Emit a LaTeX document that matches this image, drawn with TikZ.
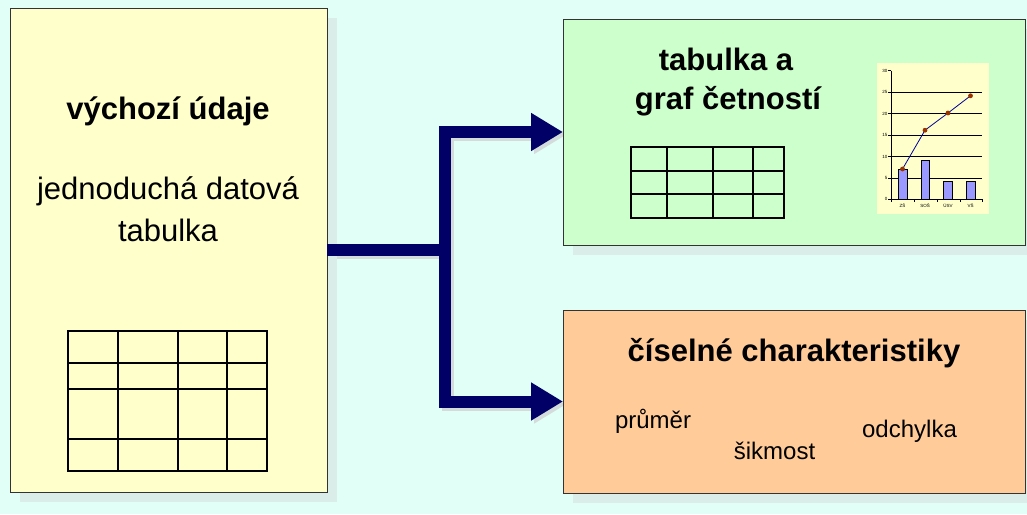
\documentclass[tikz,border=0pt]{standalone}
\usepackage{fontspec}
\setmainfont{Liberation Sans}
\usetikzlibrary{arrows.meta,shadows}

\definecolor{bgc}{HTML}{E2FFF7}
\definecolor{shadowc}{HTML}{DAEDE8}
\definecolor{arrowshadow}{HTML}{D3DCDA}
\definecolor{srcfill}{HTML}{FFFFCC}
\definecolor{freqfill}{HTML}{CCFFCC}
\definecolor{statfill}{HTML}{FFCC99}
\definecolor{navy}{HTML}{000066}
\definecolor{chartbg}{HTML}{FFFFCC}
\definecolor{barfill}{HTML}{9999FF}
\definecolor{markc}{HTML}{993300}
\definecolor{linec}{HTML}{000099}
\definecolor{edgec}{HTML}{333333}

\pgfdeclarelayer{bottom}
\pgfdeclarelayer{back}
\pgfsetlayers{bottom,back,main}

\begin{document}
\begin{tikzpicture}[x=1pt,y=-1pt,
  panel/.style={draw=edgec, line width=1pt, inner sep=0pt, outer sep=0pt,
    general shadow={fill=shadowc, shadow xshift=10pt, shadow yshift=-10pt}},
  conn/.style={draw=navy, line width=12pt},
  connshadow/.style={draw=arrowshadow, line width=12pt},
  headtip/.style={-{Triangle[length=32pt,width=36pt]}},
  bigbold/.style={font=\bfseries\fontsize{31}{38}\selectfont, anchor=base, inner sep=0pt},
  bigtext/.style={font=\fontsize{31}{38}\selectfont, anchor=base, inner sep=0pt},
  smalltext/.style={font=\fontsize{24}{28}\selectfont, anchor=base, inner sep=0pt},
  gridline/.style={line width=1.8pt, line cap=rect},
  ticklabel/.style={font=\fontsize{4.5}{5}\selectfont, inner sep=0.5pt},
  thin/.style={line width=1pt}
]
\useasboundingbox (0,0) rectangle (1027,514);
\begin{pgfonlayer}{bottom}
  \fill[bgc] (0,0) rectangle (1027,514);
\end{pgfonlayer}

% the three panels
\node[panel, fill=srcfill, minimum width=317pt, minimum height=484pt] (src) at (168.5,250) {};
\node[panel, fill=freqfill, minimum width=462pt, minimum height=226pt] (freq) at (794,132) {};
\node[panel, fill=statfill, minimum width=462pt, minimum height=183pt] (stats) at (794,401.5) {};

% source panel
\node[bigbold] (srctitle) at (168,119) {výchozí údaje};
\node[bigtext] (srcline1) at (168,199) {jednoduchá datová};
\node[bigtext] (srcline2) at (168,241) {tabulka};
\foreach \xx in {68,118,178,227,267} \draw[gridline] (\xx,331) -- (\xx,471);
\foreach \yy in {331,363,389,439,471} \draw[gridline] (68,\yy) -- (267,\yy);

% frequency panel
\node[bigbold] (freqline1) at (726,70) {tabulka a};
\node[bigbold] (freqline2) at (728,109) {graf četností};
\foreach \xx in {631,667,713,753,784} \draw[gridline] (\xx,147) -- (\xx,218);
\foreach \yy in {147,171,194,218} \draw[gridline] (631,\yy) -- (784,\yy);

% small frequency chart
\fill[chartbg] (877,63) rectangle (989,214);
\foreach \yy in {92,113.5,135,156.5,178} \draw[thin] (891,\yy) -- (982,\yy);
\foreach \yy/\lab in {199/0,178/5,156.5/10,135/15,113.5/20,92/25,70.5/30} {
  \draw[thin] (888,\yy) -- (891,\yy);
  \node[ticklabel, anchor=east] at (888,\yy) {\lab};
}
\draw[thin] (891,70.5) -- (891,199) -- (982,199);
\foreach \xx in {891,914,937,960,982} \draw[thin] (\xx,199) -- (\xx,202);
\foreach \xa/\xb/\top in {898/907/169, 921/929/160.3, 943/952/181.8, 966/975/181.8}
  \draw[thin, fill=barfill] (\xa,199) rectangle (\xb,\top);
\foreach \xx/\lab in {902.5/ZŠ, 925/SOŠ, 948/ÚSV, 970.5/VŠ}
  \node[ticklabel, anchor=north] at (\xx,203) {\lab};
\draw[linec, line width=0.8pt] (902.5,169) -- (925,130.2) -- (948,113) -- (970.5,95.8);
\foreach \xx/\yy in {902.5/169, 925/130.2, 948/113, 970.5/95.8}
  \fill[markc] (\xx,\yy) circle (2.4);

% statistics panel
\node[bigbold] (statstitle) at (794,361) {číselné charakteristiky};
\node[smalltext] (mean) at (653,428) {průměr};
\node[smalltext] (skew) at (774.5,459) {šikmost};
\node[smalltext] (dev) at (909.5,437) {odchylka};

% connectors
\coordinate (split) at (445,250);
\begin{pgfonlayer}{back}
  \begin{scope}[transform canvas={xshift=3pt, yshift=-3pt}]
    \draw[connshadow] (src.east) -- (split);
    \draw[connshadow, headtip] (split) |- (freq.west);
    \draw[connshadow, headtip] (split) |- (stats.west);
  \end{scope}
\end{pgfonlayer}
\draw[conn] (src.east) -- (split);
\draw[conn, headtip] (split) |- (freq.west);
\draw[conn, headtip] (split) |- (stats.west);
\end{tikzpicture}
\end{document}
